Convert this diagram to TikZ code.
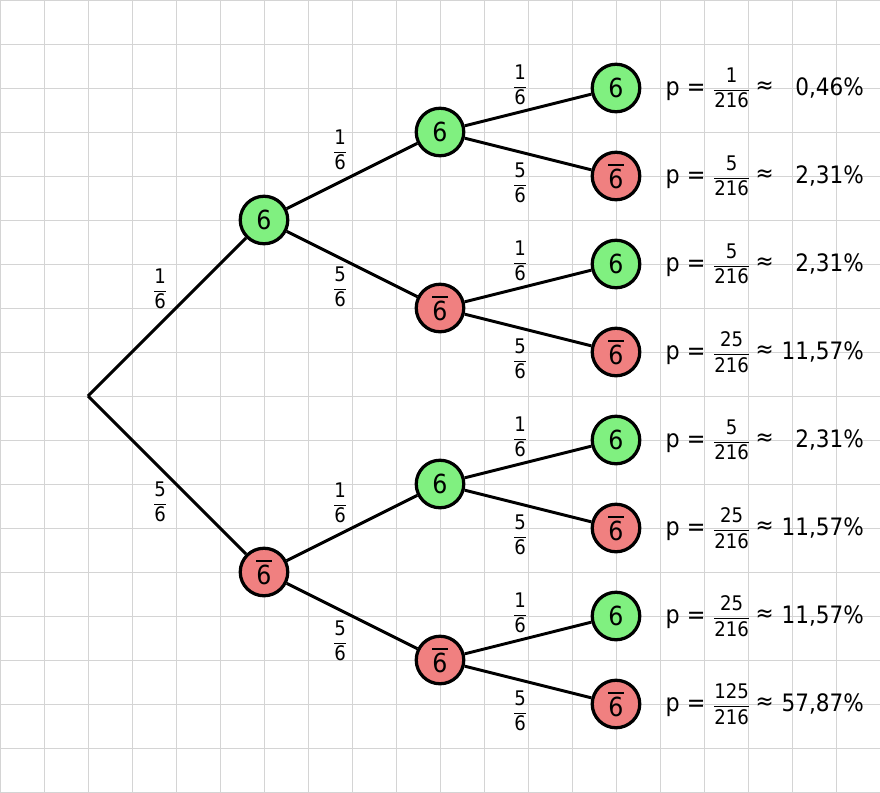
\documentclass[tikz,border=0pt]{standalone}
\usepackage{amsmath}
\usepackage{fontspec}
\setmainfont{DejaVu Sans Condensed}
\definecolor{ngreen}{RGB}{128,240,128}
\definecolor{nred}{RGB}{240,128,128}
\definecolor{gridc}{RGB}{212,212,212}
\newcommand\fr[2]{{\fontsize{13}{15}\selectfont$\dfrac{\text{#1}}{\text{#2}}$}}
\newcommand\nsix{$\overline{\text{6}}$}
\tikzset{
  tnode/.style={circle, draw=black, line width=2.1pt, minimum size=1.08cm, inner sep=0pt, font=\fontsize{17}{20}\selectfont},
  gnode/.style={tnode, fill=ngreen},
  rnode/.style={tnode, fill=nred},
  edge/.style={line width=1.9pt, black},
  elab/.style={inner sep=0pt},
  plab/.style={anchor=west, inner sep=0pt, font=\fontsize{16}{18}\selectfont},
  pct/.style={anchor=east, inner sep=0pt, font=\fontsize{15.5}{18}\selectfont}
}
\begin{document}
\begin{tikzpicture}
\useasboundingbox (0,0) rectangle (20,-18);
\fill[white] (0,0) rectangle (20,-18);
\draw[gridc, line width=0.6pt] (0,0) grid (20,-18);
\coordinate (r) at (2,-9);
\node[gnode] (a) at (6,-5) {6};
\node[rnode] (b) at (6,-13) {\nsix};
\node[gnode] (aa) at (10,-3) {6};
\node[rnode] (ab) at (10,-7) {\nsix};
\node[gnode] (ba) at (10,-11) {6};
\node[rnode] (bb) at (10,-15) {\nsix};
\node[gnode] (aaa) at (14,-2) {6};
\node[rnode] (aab) at (14,-4) {\nsix};
\node[gnode] (aba) at (14,-6) {6};
\node[rnode] (abb) at (14,-8) {\nsix};
\node[gnode] (baa) at (14,-10) {6};
\node[rnode] (bab) at (14,-12) {\nsix};
\node[gnode] (bba) at (14,-14) {6};
\node[rnode] (bbb) at (14,-16) {\nsix};
\draw[edge] (r) -- (a);
\draw[edge] (r) -- (b);
\draw[edge] (a) -- (aa);
\draw[edge] (a) -- (ab);
\draw[edge] (b) -- (ba);
\draw[edge] (b) -- (bb);
\draw[edge] (aa) -- (aaa);
\draw[edge] (aa) -- (aab);
\draw[edge] (ab) -- (aba);
\draw[edge] (ab) -- (abb);
\draw[edge] (ba) -- (baa);
\draw[edge] (ba) -- (bab);
\draw[edge] (bb) -- (bba);
\draw[edge] (bb) -- (bbb);
% edge labels
\node[elab] (l1) at (3.64,-6.57) {\fr{1}{6}};
\node[elab] (l2) at (3.64,-11.41) {\fr{5}{6}};
\node[elab] (l3) at (7.73,-3.41) {\fr{1}{6}};
\node[elab] (l4) at (7.73,-6.52) {\fr{5}{6}};
\node[elab] (l5) at (7.73,-11.43) {\fr{1}{6}};
\node[elab] (l6) at (7.73,-14.57) {\fr{5}{6}};
\foreach \p/\n in {-3/a,-7/b,-11/c,-15/d}{
  \node[elab] (u\n) at (11.82,\p+1.07) {\fr{1}{6}};
  \node[elab] (w\n) at (11.82,\p-1.16) {\fr{5}{6}};
}
% probabilities
\foreach \y/\num/\val [count=\i] in {-2/1/{0,46\%},-4/5/{2,31\%},-6/5/{2,31\%},-8/25/{11,57\%},-10/5/{2,31\%},-12/25/{11,57\%},-14/25/{11,57\%},-16/125/{57,87\%}}{
  \node[plab] (p\i) at (15.12,\y) {p = \fr{\num}{216}};
  \node[pct, anchor=center] (x\i) at (17.38,\y) {≈};
  \node[pct] (q\i) at (19.64,\y) {\val};
}
\end{tikzpicture}
\end{document}
